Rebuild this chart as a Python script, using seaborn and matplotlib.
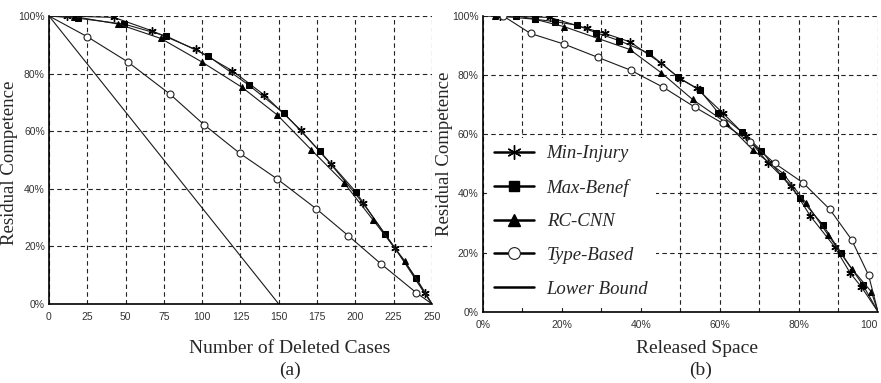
import matplotlib
matplotlib.use("Agg")
import matplotlib.pyplot as plt
import seaborn as sns
from matplotlib.lines import Line2D

# ---- panel (a): residual competence vs number of deleted cases
a_min_x = [0, 11.5, 42.4, 67, 95.7, 119.6, 140.4, 164.3, 183.9, 205, 225.7, 245.2, 250]
a_min_y = [100, 100, 99.5, 94.9, 88.4, 81, 72.6, 60.4, 48.6, 35, 19.6, 3.7, 0]
a_max_x = [0, 19.1, 48.9, 76.7, 103.9, 130.4, 153.5, 176.7, 200.2, 219.1, 239.8, 250]
a_max_y = [100, 99.2, 97.2, 93, 86.1, 76, 66.2, 53.1, 39, 24.3, 8.9, 0]
a_rc_x = [0, 16.3, 45.2, 73, 99.6, 126.1, 149.1, 171.3, 192.6, 211.5, 232.2, 250]
a_rc_y = [100, 99.8, 97.2, 92.2, 84.1, 75.2, 65.6, 53.5, 42.1, 29.2, 15, 0]
a_type_x = [0, 25, 51.3, 78.9, 101.3, 124.6, 149, 174.6, 195.4, 217, 239.8, 250]
a_type_y = [100, 92.8, 84.1, 72.9, 62.2, 52.3, 43.4, 33, 23.7, 13.8, 3.9, 0]
a_lower_x = [0, 150]
a_lower_y = [100, 0]
a_xticks = [0, 25, 50, 75, 100, 125, 150, 175, 200, 225, 250]

# ---- panel (b): residual competence vs released space (%)
b_min_x = [0, 4.4, 17, 26.3, 30.9, 37.2, 45.2, 50, 54.1, 60.7, 66.6, 72.2, 78.1, 82.9, 89, 93, 95.8, 100]
b_min_y = [100, 100, 99.4, 95.7, 94, 91.2, 83.9, 78.6, 75.5, 67.2, 59.3, 50.3, 42.5, 32.3, 22, 13, 8.4, 0]
b_max_x = [0, 8.4, 13.2, 18.3, 23.8, 28.6, 34.5, 42.1, 49.5, 54.9, 59.6, 65.5, 70.5, 75.6, 80.2, 86.1, 90.7, 96.2, 100]
b_max_y = [100, 100, 98.8, 98, 96.8, 94.3, 91.6, 87.3, 79.2, 74.9, 67.2, 60.8, 54.4, 45.9, 38.5, 29.3, 19.7, 9, 0]
b_rc_x = [0, 3, 13.2, 20.6, 29.2, 37.2, 45.2, 53.1, 61.5, 68.4, 76, 81.9, 87.4, 93.3, 98.3, 100]
b_rc_y = [100, 100, 98.8, 96.3, 92.3, 88.6, 80.7, 71.7, 63.9, 54.6, 46.7, 36.6, 25.9, 14.6, 6.8, 0]
b_type_x = [0, 5.2, 12.1, 20.6, 29.2, 37.4, 45.7, 53.8, 60.8, 67.6, 73.9, 81, 87.8, 93.3, 97.6, 100]
b_type_y = [100, 99.9, 94, 90.4, 85.9, 81.6, 75.8, 69, 63.6, 57.4, 50.1, 43.6, 34.6, 24.4, 12.4, 0]
b_xticks = [0, 20, 40, 60, 80, 100]
b_xlabels = ["0%", "20%", "40%", "60%", "80%", "100"]

y_ticks = [0, 20, 40, 60, 80, 100]
y_labels = ["0%", "20%", "40%", "60%", "80%", "100%"]

names = ["Min-Injury", "Max-Benef", "RC-CNN", "Type-Based", "Lower Bound"]

sns.set_style("white")
plt.rcParams["font.family"] = ["Liberation Serif", "DejaVu Serif"]
tick_font = dict(family=["Liberation Sans Narrow", "Liberation Sans", "DejaVu Sans"], size=7.5, color="#333333")

styles = {
    "Min-Injury": dict(marker=(6, 2, 0), markersize=6, mfc="black", mec="black", mew=1.0),
    "Max-Benef": dict(marker="s", markersize=4.5, mfc="black", mec="black"),
    "RC-CNN": dict(marker="^", markersize=5, mfc="black", mec="black"),
    "Type-Based": dict(marker="o", markersize=5, mfc="white", mec="#222222", mew=0.8),
    "Lower Bound": dict(marker=None),
}

fig = plt.figure(figsize=(8.81, 3.83), dpi=100)
ax_a = fig.add_axes([0.0556, 0.2063, 0.4347, 0.752])
ax_b = fig.add_axes([0.5479, 0.186, 0.4487, 0.773])


def draw(ax, xs, ys, name):
    st = styles[name]
    sns.lineplot(x=xs, y=ys, ax=ax, color="#1a1a1a", linewidth=0.8, sort=False,
                 markevery=slice(1, -1) if st["marker"] else None, **st)


series_a = [(a_min_x, a_min_y), (a_max_x, a_max_y), (a_rc_x, a_rc_y),
            (a_type_x, a_type_y), (a_lower_x, a_lower_y)]
for (xs, ys), n in zip(series_a, names):
    draw(ax_a, xs, ys, n)

series_b = [(b_min_x, b_min_y), (b_max_x, b_max_y), (b_rc_x, b_rc_y),
            (b_type_x, b_type_y)]
for (xs, ys), n in zip(series_b, names[:4]):
    draw(ax_b, xs, ys, n)

for ax in (ax_a, ax_b):
    ax.set_ylim(0, 100)
    ax.set_yticks(y_ticks)
    ax.set_yticklabels(y_labels, **tick_font)
    ax.tick_params(length=0, pad=3)
    for s in ("top", "right"):
        ax.spines[s].set_visible(False)
    for s in ("left", "bottom"):
        ax.spines[s].set_color("black")
        ax.spines[s].set_linewidth(1.2)
    ax.grid(True, which="both", color="#222222", linestyle=(0, (4, 3)), linewidth=0.8)
    ax.set_xlabel("")
    ax.set_ylabel("Residual Competence", fontsize=13.5)

ax_a.yaxis.set_label_coords(-0.082, 0.49)
ax_b.yaxis.set_label_coords(-0.074, 0.535)

ax_a.set_xlim(0, 250)
ax_a.set_xticks(a_xticks)
ax_a.set_xticklabels([str(t) for t in a_xticks], **tick_font)
ax_a.tick_params(axis="x", pad=6)

ax_b.set_xlim(0, 100)
ax_b.set_xticks(b_xticks)
ax_b.set_xticks([10, 30, 50, 70, 90], minor=True)
ax_b.set_xticklabels(b_xlabels, **tick_font)
ax_b.get_xticklabels()[-1].set_horizontalalignment("right")
ax_b.tick_params(axis="both", which="both", length=0)
ax_b.tick_params(axis="x", pad=6)

fig.text(0.329, 0.09, "Number of Deleted Cases", ha="center", va="center", fontsize=14)
fig.text(0.329, 0.033, "(a)", ha="center", va="center", fontsize=14)
fig.text(0.791, 0.09, "Released Space", ha="center", va="center", fontsize=14)
fig.text(0.795, 0.033, "(b)", ha="center", va="center", fontsize=14)

handles = []
for n in names:
    st = dict(styles[n])
    if st["marker"]:
        st["markersize"] = st["markersize"] * 1.7
    handles.append(Line2D([], [], color="black", linewidth=1.8, **st))
leg = ax_b.legend(handles, names, loc="upper left", bbox_to_anchor=(0.01, 0.588),
                  borderaxespad=0, frameon=True, handlelength=2.1, handletextpad=0.7,
                  labelspacing=0.88,
                  prop=dict(family=["Liberation Serif", "DejaVu Serif"], style="italic", size=13.5))
leg.get_frame().set_facecolor("white")
leg.get_frame().set_edgecolor("none")
leg.get_frame().set_alpha(1)

fig.savefig("out.png", dpi=100)
